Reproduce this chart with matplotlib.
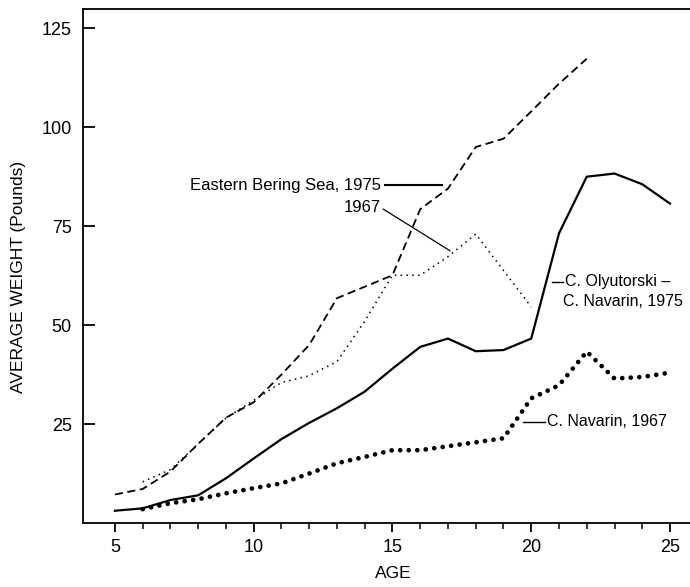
import matplotlib
matplotlib.use("Agg")
import matplotlib.pyplot as plt
from matplotlib.ticker import FixedLocator

plt.rcParams['font.family'] = ['Liberation Sans', 'DejaVu Sans']

# Eastern Bering Sea, 1975 (dashed)
ages_ebs75 = list(range(5, 23))
ebs_1975 = [7.2, 8.6, 13.0, 20.0, 26.6, 30.5, 37.5, 45.0, 56.8, 59.7,
            62.6, 79.3, 84.5, 95.0, 97.1, 104.0, 111.0, 117.3]

# Eastern Bering Sea, 1967 (thin dots)
ages_ebs67 = list(range(6, 21))
ebs_1967 = [10.4, 13.5, 20.0, 26.5, 31.0, 35.5, 37.2, 40.8, 51.0, 62.6,
            62.6, 67.3, 73.0, 63.8, 54.6]

# C. Olyutorski - C. Navarin, 1975 (solid)
ages_oly75 = list(range(5, 26))
oly_1975 = [3.1, 3.7, 5.8, 7.0, 11.3, 16.3, 21.2, 25.3, 29.0, 33.2,
            39.0, 44.5, 46.6, 43.4, 43.7, 46.6, 73.2, 87.5, 88.3, 85.6, 80.7]

# C. Navarin, 1967 (heavy dots)
ages_nav67 = list(range(6, 26))
nav_1967 = [3.5, 5.0, 6.0, 7.5, 8.8, 10.0, 12.5, 15.1, 16.7, 18.4,
            18.4, 19.4, 20.4, 21.4, 31.5, 34.8, 43.3, 36.5, 36.9, 38.0]

x_major = [5, 10, 15, 20, 25]
x_minor = [a for a in range(5, 26) if a not in x_major]
y_major = [25, 50, 75, 100, 125]

fig = plt.figure(figsize=(6.9, 5.87), dpi=100)
ax = fig.add_axes([83 / 690, 1 - 523 / 587, 1 - 83 / 690, (523 - 8.5) / 587])

ax.plot(ages_ebs75, ebs_1975, color='black', lw=1.3, linestyle=(0, (4.5, 2.5)))
ax.plot(ages_ebs67, ebs_1967, color='black', lw=1.1, linestyle=(0, (1, 2.8)))
ax.plot(ages_oly75, oly_1975, color='black', lw=1.6)
ax.plot(ages_nav67, nav_1967, color='black', lw=3.4, linestyle=(0, (0.01, 1.8)),
        dash_capstyle='round')

ax.set_xlim(3.85, 25.72)
ax.set_ylim(0, 130)

ax.spines['right'].set_visible(False)
for s in ['left', 'top', 'bottom']:
    ax.spines[s].set_linewidth(1.3)

ax.xaxis.set_major_locator(FixedLocator(x_major))
ax.xaxis.set_minor_locator(FixedLocator(x_minor))
ax.yaxis.set_major_locator(FixedLocator(y_major))
ax.tick_params(axis='x', which='major', direction='out', length=6.5, width=1.3,
               pad=5, labelsize=13)
ax.tick_params(axis='x', which='minor', direction='out', length=4.5, width=1.1)
ax.tick_params(axis='y', which='major', direction='in', length=8.5, width=1.3,
               pad=8, labelsize=13)
ax.tick_params(top=False, right=False)

fig.text(19 / 690, 1 - 277 / 587, 'AVERAGE WEIGHT (Pounds)', rotation=90,
         ha='center', va='center', fontsize=12.5)
fig.text(393 / 690, 1 - 574 / 587, 'AGE', ha='center', va='center', fontsize=12.5)

fs = 12
ax.text(14.6, 85.3, 'Eastern Bering Sea, 1975', ha='right', va='center', fontsize=fs)
ax.plot([14.72, 16.78], [85.3, 85.3], color='black', lw=1.5)
ax.text(14.6, 79.8, '1967', ha='right', va='center', fontsize=fs)
ax.plot([14.67, 17.07], [79.3, 68.8], color='black', lw=0.9)

fs2 = 11.5
ax.plot([20.74, 21.14], [60.9, 60.9], color='black', lw=1.0)
ax.text(21.2, 60.9, 'C. Olyutorski \u2013', ha='left', va='center', fontsize=fs2)
ax.text(21.15, 55.9, 'C. Navarin, 1975', ha='left', va='center', fontsize=fs2)

ax.plot([19.71, 20.5], [25.6, 25.6], color='black', lw=1.0)
ax.text(20.56, 25.6, 'C. Navarin, 1967', ha='left', va='center', fontsize=fs2)

fig.savefig('out.png', dpi=100)
